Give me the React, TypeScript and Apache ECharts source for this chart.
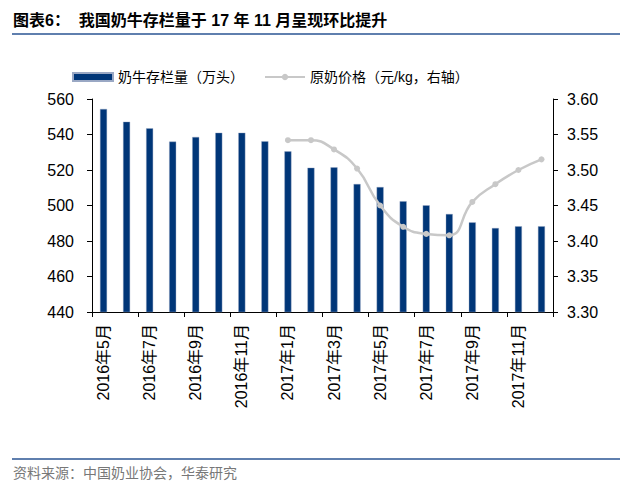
import React, { useEffect, useRef } from "react";
import * as echarts from "echarts";

const categories = [
  "2016年5月", "2016年6月", "2016年7月", "2016年8月", "2016年9月", "2016年10月",
  "2016年11月", "2016年12月", "2017年1月", "2017年2月", "2017年3月", "2017年4月",
  "2017年5月", "2017年6月", "2017年7月", "2017年8月", "2017年9月", "2017年10月",
  "2017年11月", "2017年12月",
];
const cattleStock = [
  554.4, 547.2, 543.5, 536.0, 538.6, 541.0, 541.0, 536.2, 530.5, 521.3,
  521.5, 512.1, 510.4, 502.4, 500.1, 495.2, 490.5, 487.3, 488.3, 488.3,
];
const milkPrice = [
  null, null, null, null, null, null, null, null,
  3.542, 3.542, 3.529, 3.502, 3.45, 3.42, 3.41, 3.408, 3.455, 3.48, 3.5, 3.515,
];
const titleText = "图表6：  我国奶牛存栏量于 17 年 11 月呈现环比提升";
const sourceText = "资料来源：中国奶业协会，华泰研究";
const barName = "奶牛存栏量（万头）";
const lineName = "原奶价格（元/kg，右轴）";

const latin = "'Liberation Sans', Arial, sans-serif";
const cjk = "'Liberation Sans', 'Noto Sans CJK SC', sans-serif";

export default function App() {
  const ref = useRef<HTMLDivElement>(null);
  useEffect(() => {
    if (!ref.current) return;
    const chart = echarts.init(ref.current, null, { renderer: "svg" });
    chart.setOption({
      animation: false,
      backgroundColor: "#ffffff",
      legend: {
        top: 65,
        left: 67,
        itemWidth: 40,
        itemHeight: 8,
        itemGap: 20,
        textStyle: { fontSize: 14, color: "#000", fontFamily: cjk },
        data: [
          { name: barName, icon: "rect" },
          { name: lineName },
        ],
      },
      grid: { left: 92, right: 81, top: 99, bottom: 178 },
      xAxis: {
        type: "category",
        data: categories,
        boundaryGap: true,
        axisLine: { lineStyle: { color: "#000", width: 1 } },
        axisTick: { show: true, interval: 1, length: 5, lineStyle: { color: "#000" } },
        axisLabel: {
          interval: 1,
          rotate: 90,
          margin: 12,
          fontSize: 16,
          color: "#000",
          fontFamily: cjk,
        },
      },
      yAxis: [
        {
          type: "value",
          min: 440,
          max: 560,
          interval: 20,
          axisLine: { show: true, lineStyle: { color: "#000" } },
          axisTick: { show: true, length: 5, lineStyle: { color: "#000" } },
          splitLine: { show: false },
          axisLabel: { fontSize: 16, color: "#000", margin: 18, fontFamily: latin },
        },
        {
          type: "value",
          min: 3.3,
          max: 3.6,
          interval: 0.05,
          position: "right",
          axisLine: { show: true, lineStyle: { color: "#000" } },
          axisTick: { show: true, length: 5, lineStyle: { color: "#000" } },
          splitLine: { show: false },
          axisLabel: {
            fontSize: 16,
            color: "#000",
            margin: 14,
            fontFamily: latin,
            formatter: (v: number) => v.toFixed(2),
          },
        },
      ],
      series: [
        {
          name: barName,
          type: "bar",
          data: cattleStock,
          barWidth: 7,
          itemStyle: { color: "#003678", borderColor: "#9aa8c4", borderWidth: 0.4 },
        },
        {
          name: lineName,
          type: "line",
          yAxisIndex: 1,
          data: milkPrice,
          smooth: true,
          symbol: "circle",
          symbolSize: 6,
          lineStyle: { color: "#c8c8c8", width: 2.5 },
          itemStyle: { color: "#c8c8c8" },
        },
      ],
      graphic: [
        {
          type: "text",
          left: 13,
          top: 12,
          style: {
            text: titleText,
            font: "bold 16px 'Liberation Sans', 'Noto Sans CJK SC', sans-serif",
            fill: "#000",
          },
        },
        {
          type: "rect",
          shape: { x: 12, y: 33, width: 608, height: 2 },
          style: { fill: "#5f7fae" },
        },
        {
          type: "rect",
          shape: { x: 12, y: 458, width: 608, height: 2 },
          style: { fill: "#5f7fae" },
        },
        {
          type: "text",
          left: 13,
          top: 465,
          style: {
            text: sourceText,
            font: "14px 'Noto Sans CJK SC', sans-serif",
            fill: "#777",
          },
        },
      ],
    });
    return () => chart.dispose();
  }, []);
  return (
    <div
      ref={ref}
      style={{ position: "fixed", left: 0, top: 0, width: 634, height: 490 }}
    />
  );
}
